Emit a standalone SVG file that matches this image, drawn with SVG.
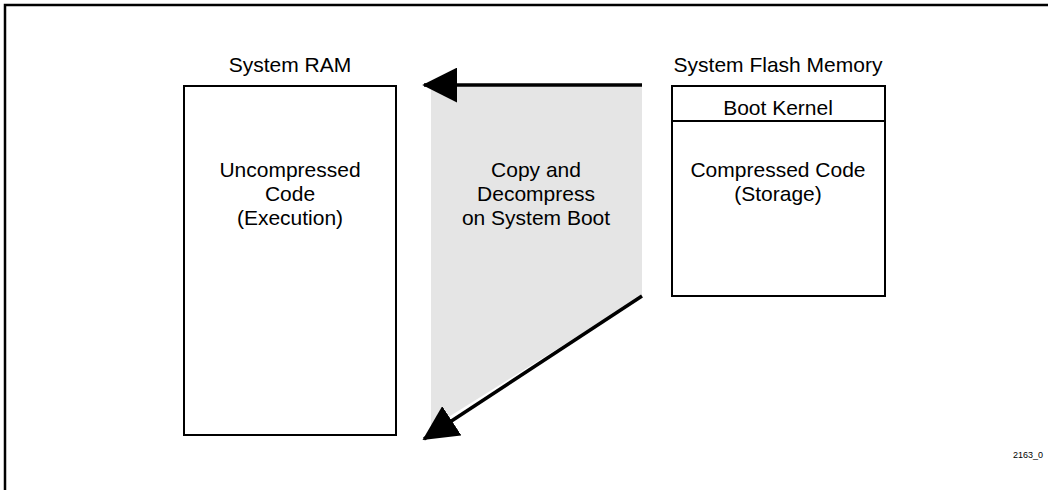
<svg xmlns="http://www.w3.org/2000/svg" width="1048" height="490" viewBox="0 0 1048 490">
  <style>
    .lbl { font-family: "Liberation Sans", Arial, sans-serif; font-size: 21px; fill: #000; text-anchor: middle; }
    .box { fill: #fff; stroke: #000; stroke-width: 2; }
    .flow { stroke: #000; stroke-width: 3.5; fill: none; }
    .tag { font-family: "Liberation Sans", Arial, sans-serif; font-size: 9px; fill: #000; }
  </style>
  <defs>
    <marker id="head" markerWidth="10" markerHeight="10" refX="9.5" refY="5" orient="auto" markerUnits="strokeWidth" viewBox="0 0 10 10">
      <path d="M0,0 L10,5 L0,10 Z" fill="#000"/>
    </marker>
  </defs>

  <rect width="1048" height="490" fill="#fff"/>
  <!-- page frame -->
  <path d="M5,495 L5,5 L1055,5" fill="none" stroke="#000" stroke-width="2.5"/>

  <!-- copy region shading -->
  <polygon points="431,85 642,85 642,296 431,428" fill="#e5e5e5"/>

  <g id="ram">
    <text class="lbl" x="290" y="72">System RAM</text>
    <rect class="box" x="184" y="86" width="212" height="349"/>
    <text class="lbl" x="290" y="177">Uncompressed</text>
    <text class="lbl" x="290" y="201">Code</text>
    <text class="lbl" x="290" y="225">(Execution)</text>
  </g>

  <g id="flash">
    <text class="lbl" x="778" y="72">System Flash Memory</text>
    <rect class="box" x="672" y="86" width="213" height="210"/>
    <line x1="672" y1="121" x2="885" y2="121" stroke="#000" stroke-width="2"/>
    <text class="lbl" x="778" y="115">Boot Kernel</text>
    <text class="lbl" x="778" y="177">Compressed Code</text>
    <text class="lbl" x="778" y="201">(Storage)</text>
  </g>

  <g id="copy-step">
    <text class="lbl" x="536" y="177">Copy and</text>
    <text class="lbl" x="536" y="201">Decompress</text>
    <text class="lbl" x="536" y="225">on System Boot</text>
  </g>

  <g id="connectors">
    <line class="flow" x1="642" y1="85" x2="424" y2="85" marker-end="url(#head)"/>
    <line class="flow" x1="642" y1="296" x2="424" y2="439" marker-end="url(#head)"/>
  </g>

  <text class="tag" x="1013" y="458">2163_0</text>
</svg>
